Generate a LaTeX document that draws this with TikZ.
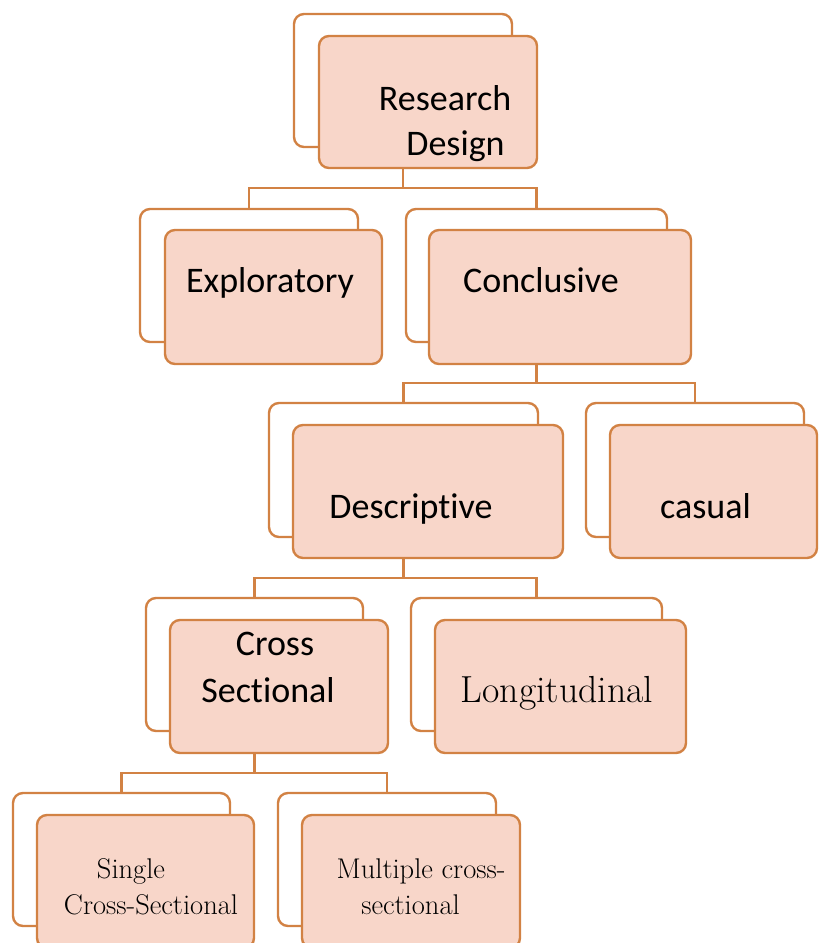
\documentclass[tikz,border=0pt]{standalone}
\usepackage{fontspec}
\newfontfamily\calfont[Ligatures=NoCommon]{Carlito}
\usetikzlibrary{calc}
\definecolor{edgeclr}{RGB}{210,130,68}
\definecolor{boxfill}{RGB}{248,214,201}
\begin{document}
\begin{tikzpicture}[x=1pt,y=-1pt,
  anybox/.style={draw=edgeclr, line width=2.4pt, rounded corners=10pt, inner sep=0pt, outer sep=0pt, anchor=north west},
  backbox/.style={anybox, fill=white},
  frontbox/.style={anybox, fill=boxfill},
  conn/.style={draw=edgeclr, line width=2.4pt},
  calt/.style={font=\calfont\fontsize{36}{43}\selectfont, inner sep=0pt, anchor=base},
  bigserif/.style={font=\fontsize{37.7}{45}\selectfont, inner sep=0pt, anchor=base},
  smallserif/.style={font=\fontsize{28.5}{34}\selectfont, inner sep=0pt, anchor=base}]
\useasboundingbox (0,0) rectangle (819,943);
% back boxes
\node[backbox, minimum width=218pt, minimum height=133pt] (rdB) at (294,14) {};
\node[backbox, minimum width=218pt, minimum height=133pt] (expB) at (140,209) {};
\node[backbox, minimum width=261pt, minimum height=133pt] (conB) at (406,209) {};
\node[backbox, minimum width=269pt, minimum height=134pt] (desB) at (269,403) {};
\node[backbox, minimum width=218pt, minimum height=134pt] (casB) at (586,403) {};
\node[backbox, minimum width=217pt, minimum height=133pt] (crsB) at (146,598) {};
\node[backbox, minimum width=251pt, minimum height=133pt] (lonB) at (411,598) {};
\node[backbox, minimum width=217pt, minimum height=133pt] (sglB) at (13,793) {};
\node[backbox, minimum width=218pt, minimum height=133pt] (mulB) at (278,793) {};
% connectors
\draw[conn] (rdB.south) |- ($(expB.north)+(0,-21)$) -- (expB.north);
\draw[conn] (rdB.south) |- ($(conB.north)+(0,-21)$) -- (conB.north);
\draw[conn] (conB.south) |- ($(desB.north)+(0,-20)$) -- (desB.north);
\draw[conn] (conB.south) |- ($(casB.north)+(0,-20)$) -- (casB.north);
\draw[conn] (desB.south) |- ($(crsB.north)+(0,-20)$) -- (crsB.north);
\draw[conn] (desB.south) |- ($(lonB.north)+(0,-20)$) -- (lonB.north);
\draw[conn] (crsB.south) |- ($(sglB.north)+(0,-20)$) -- (sglB.north);
\draw[conn] (crsB.south) |- ($(mulB.north)+(0,-20)$) -- (mulB.north);
% front boxes
\node[frontbox, minimum width=218pt, minimum height=132pt] (rdF) at (319,36) {};
\node[frontbox, minimum width=217pt, minimum height=134pt] (expF) at (165,230) {};
\node[frontbox, minimum width=262pt, minimum height=134pt] (conF) at (429,230) {};
\node[frontbox, minimum width=270pt, minimum height=133pt] (desF) at (293,425) {};
\node[frontbox, minimum width=207pt, minimum height=133pt] (casF) at (610,425) {};
\node[frontbox, minimum width=218pt, minimum height=133pt] (crsF) at (170,620) {};
\node[frontbox, minimum width=251pt, minimum height=133pt] (lonF) at (435,620) {};
\node[frontbox, minimum width=217pt, minimum height=133pt] (sglF) at (37,815) {};
\node[frontbox, minimum width=218pt, minimum height=133pt] (mulF) at (302,815) {};
% texts
\node[calt] (rdT1) at (445,110) {Research};
\node[calt] (rdT2) at (455.5,155) {Design};
\node[calt] (expT) at (270,292) {Exploratory};
\node[calt] (conT) at (541,292) {Conclusive};
\node[calt] (desT) at (411,518) {Descriptive};
\node[calt] (casT) at (705.5,518) {casual};
\node[calt] (crsT1) at (275,655) {Cross};
\node[calt] (crsT2) at (268,702) {Sectional};
\node[bigserif] (lonT) at (557,702) {Longitudinal};
\node[smallserif] (sglT1) at (131,878) {Single};
\node[smallserif] (sglT2) at (151,914) {Cross-Sectional};
\node[smallserif] (mulT1) at (421,878) {Multiple cross-};
\node[smallserif] (mulT2) at (410.5,914) {sectional};
\end{tikzpicture}
\end{document}
